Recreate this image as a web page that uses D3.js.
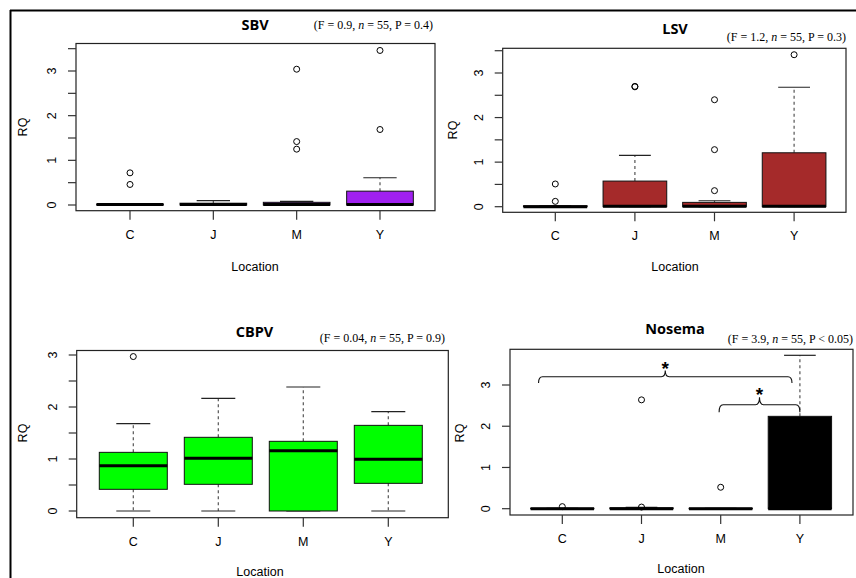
<!DOCTYPE html>
<html><head><meta charset="utf-8">
<script src="https://cdn.jsdelivr.net/npm/d3@7"></script>
<style>body{margin:0;background:#fff;}svg{display:block;}</style>
</head><body>
<svg id="c" width="856" height="578"></svg>
<script>
const groups = ["C", "J", "M", "Y"];
// stats per group: [lower whisker, Q1, median, Q3, upper whisker]
const sbvStats = [[0,0,0.01,0.02,0.03],[0,0,0.01,0.04,0.10],[0,0,0.01,0.06,0.08],[0,0,0.01,0.31,0.61]];
const sbvOut = [[0.46,0.72],[],[1.25,1.42,3.04],[1.69,3.46]];
const lsvStats = [[0,0,0,0.02,0.02],[0,0,0.01,0.575,1.15],[0,0,0.01,0.097,0.134],[0,0,0.01,1.21,2.68]];
const lsvOut = [[0.12,0.51],[2.69,2.70],[0.36,1.28,2.40],[3.41]];
const cbpvStats = [[0,0.417,0.872,1.128,1.68],[0,0.513,1.013,1.417,2.167],[0,0,1.16,1.34,2.385],[0,0.532,0.994,1.647,1.91]];
const cbpvOut = [[2.97],[],[],[]];
const nosStats = [[0,0,0,0.01,0.01],[0,0,0,0.02,0.03],[0,0,0,0.01,0.01],[0,0,0,2.24,3.72]];
const nosOut = [[0.05],[0.04,2.64],[0.52],[]];
const halfTicks = [0,0.5,1,1.5,2,2.5,3,3.5];
const halfTicks3 = [0,0.5,1,1.5,2,2.5,3];
const intTicks = [0,1,2,3];
const tickLabels = [0,1,2,3];

const panels = [
 {title:"SBV", stats:sbvStats, out:sbvOut, fill:"#A020F0", ticks:halfTicks,
  stat:["(F = 0.9, ","n"," = 55, P = 0.4)"],
  box:[76,43.5,435,210.7], y0:205, y3:71, c0:130, sp:83.33,
  tx:255, ty:25, sx:433, sy:29, xl:235, lx:255, ly:266.7, rx:23, ry:127},
 {title:"LSV", stats:lsvStats, out:lsvOut, fill:"#A52A2A", ticks:halfTicks,
  stat:["(F = 1.2, ","n"," = 55, P = 0.3)"],
  box:[502.7,48.3,846,212.3], y0:206.7, y3:73, c0:555.3, sp:79.6,
  tx:675, ty:29, sx:846, sy:40.5, xl:236, lx:675, ly:266.7, rx:453, ry:130},
 {title:"CBPV", stats:cbpvStats, out:cbpvOut, fill:"#00FF00", ticks:halfTicks3,
  stat:["(F = 0.04, ","n"," = 55, P = 0.9)"],
  box:[76.7,350.5,448.3,517.7], y0:511, y3:355, c0:133.3, sp:85,
  tx:254.5, ty:331.7, sx:445, sy:341.5, xl:541.7, lx:260, ly:571.7, rx:23, ry:433},
 {title:"Nosema", stats:nosStats, out:nosOut, fill:"#000000", ticks:intTicks,
  stat:["(F = 3.9, ","n"," = 55, P < 0.05)"],
  box:[510,349.3,853,515], y0:508.7, y3:385, c0:562.3, sp:79.2,
  tx:675, ty:329.3, sx:853, sy:343, xl:538.3, lx:681, ly:568.3, rx:460, ry:433}
];

const svg = d3.select("#c");
// outer frame (left and top)
svg.append("line").attr("x1",10).attr("y1",10.5).attr("x2",856).attr("y2",10.5).attr("stroke","#000").attr("stroke-width",2);
svg.append("line").attr("x1",10.5).attr("y1",10).attr("x2",10.5).attr("y2",578).attr("stroke","#000").attr("stroke-width",2);

const sans = "'Liberation Sans', Arial, sans-serif";
const serif = "'Liberation Serif', 'Times New Roman', serif";

panels.forEach(p => {
  const g = svg.append("g");
  const [bx0,by0,bx1,by1] = p.box;
  const x = d3.scaleLinear().domain([1,4]).range([p.c0, p.c0 + 3*p.sp]);
  const y = d3.scaleLinear().domain([0,3]).range([p.y0, p.y3]);
  const bw = 0.8*p.sp;

  p.stats.forEach((s,i) => {
    const cx = x(i+1);
    const [lo,q1,med,q3,hi] = s;
    g.append("line").attr("x1",cx).attr("x2",cx).attr("y1",y(q3)).attr("y2",y(hi))
      .attr("stroke","#555").attr("stroke-dasharray","3,3").attr("stroke-width",1.2);
    g.append("line").attr("x1",cx).attr("x2",cx).attr("y1",y(q1)).attr("y2",y(lo))
      .attr("stroke","#555").attr("stroke-dasharray","3,3").attr("stroke-width",1.2);
    [lo,hi].forEach(v => g.append("line").attr("x1",cx-bw/4).attr("x2",cx+bw/4).attr("y1",y(v)).attr("y2",y(v))
      .attr("stroke","#222").attr("stroke-width",1.2));
    g.append("rect").attr("x",cx-bw/2).attr("y",y(q3)).attr("width",bw).attr("height",Math.max(0.5,y(q1)-y(q3)))
      .attr("fill",p.fill).attr("stroke","#111").attr("stroke-width",1);
    g.append("line").attr("x1",cx-bw/2).attr("x2",cx+bw/2).attr("y1",y(med)).attr("y2",y(med))
      .attr("stroke","#000").attr("stroke-width",3);
    p.out[i].forEach(v => g.append("circle").attr("cx",cx).attr("cy",y(v)).attr("r",3)
      .attr("fill","none").attr("stroke","#000").attr("stroke-width",1));
  });

  g.append("rect").attr("x",bx0).attr("y",by0).attr("width",bx1-bx0).attr("height",by1-by0)
    .attr("fill","none").attr("stroke","#222").attr("stroke-width",1.2);

  p.ticks.forEach(t => g.append("line").attr("x1",bx0-8).attr("x2",bx0).attr("y1",y(t)).attr("y2",y(t))
    .attr("stroke","#333").attr("stroke-width",1.2));
  tickLabels.forEach(t => g.append("text").attr("transform",`translate(${bx0-24},${y(t)}) rotate(-90)`)
    .attr("text-anchor","middle").attr("dy","0.35em").attr("font-family",sans).attr("font-size",12.5).text(t));
  groups.forEach((gname,i) => {
    g.append("line").attr("x1",x(i+1)).attr("x2",x(i+1)).attr("y1",by1).attr("y2",by1+9)
      .attr("stroke","#333").attr("stroke-width",1.2);
    g.append("text").attr("x",x(i+1)).attr("y",p.xl).attr("dy","0.35em").attr("text-anchor","middle")
      .attr("font-family",sans).attr("font-size",12.5).text(gname);
  });
  g.append("text").attr("x",p.lx).attr("y",p.ly).attr("dy","0.35em").attr("text-anchor","middle")
    .attr("font-family",sans).attr("font-size",12.5).text("Location");
  g.append("text").attr("transform",`translate(${p.rx},${p.ry}) rotate(-90)`).attr("dy","0.35em")
    .attr("text-anchor","middle").attr("font-family",sans).attr("font-size",12.5).text("RQ");
  g.append("text").attr("x",p.tx).attr("y",p.ty).attr("dy","0.35em").attr("text-anchor","middle")
    .attr("font-family","'Open Sans', sans-serif").attr("font-weight","bold").attr("font-size",14.5).text(p.title);
  const st = g.append("text").attr("x",p.sx).attr("y",p.sy).attr("text-anchor","end")
    .attr("font-family",serif).attr("font-size",12);
  st.append("tspan").text(p.stat[0]);
  st.append("tspan").attr("font-style","italic").text(p.stat[1]);
  st.append("tspan").text(p.stat[2]);

  if (p.title === "Nosema") {
    const br = [
      {a:0.7, b:3.9, v:3.2, ends:3.05, peak:3.35},
      {a:2.98, b:4.0, v:2.52, ends:2.34, peak:2.7}
    ];
    br.forEach(o => {
      const xa=x(o.a), xb=x(o.b), xm=(xa+xb)/2, yh=y(o.v), ye=y(o.ends), yp=y(o.peak);
      const d = `M${xa},${ye} Q${xa},${yh} ${xa+4},${yh} L${xm-4},${yh} Q${xm},${yh} ${xm},${yp} Q${xm},${yh} ${xm+4},${yh} L${xb-4},${yh} Q${xb},${yh} ${xb},${ye}`;
      g.append("path").attr("d",d).attr("fill","none").attr("stroke","#111").attr("stroke-width",1.1);
      g.append("text").attr("x",xm).attr("y",yp+4).attr("text-anchor","middle")
        .attr("font-family",sans).attr("font-weight","bold").attr("font-size",19).text("*");
    });
  }
});
</script>
</body></html>
